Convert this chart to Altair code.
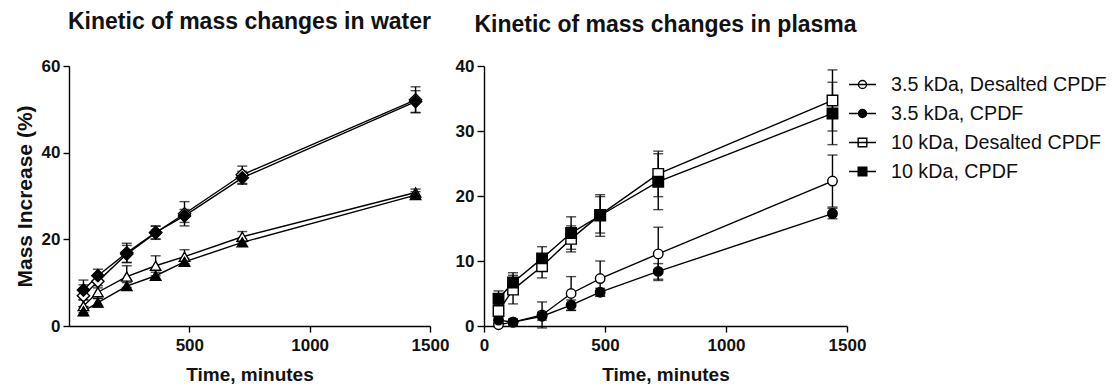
import altair as alt
import pandas as pd

# ---------------- data ----------------
times = [60, 120, 240, 360, 480, 720, 1440]

# water panel (no legend in the original)
water_names = ["Open diamond", "Filled diamond", "Open triangle", "Filled triangle"]
water_open_diamond = [7.0, 10.3, 16.6, 21.5, 25.9, 34.9, 52.2]
water_open_diamond_err = [2.5, 1.5, 2.0, 1.5, 2.8, 2.0, 3.0]
water_filled_diamond = [8.3, 11.6, 16.9, 21.6, 25.4, 34.2, 51.8]
water_filled_diamond_err = [2.3, 1.5, 2.2, 1.5, 1.5, 1.5, 2.5]
water_open_triangle = [4.6, 7.8, 11.4, 13.9, 16.0, 20.6, 30.8]
water_open_triangle_err = [1.5, 1.5, 2.5, 2.3, 1.6, 1.2, 0.8]
water_filled_triangle = [3.4, 5.4, 9.2, 11.6, 14.8, 19.3, 30.2]
water_filled_triangle_err = [1.0, 1.0, 0.8, 0.8, 0.8, 0.8, 0.8]

# plasma panel
plasma_names = ["3.5 kDa, Desalted CPDF", "3.5 kDa, CPDF",
                "10 kDa, Desalted CPDF", "10 kDa, CPDF"]
plasma_35_desalted = [0.2, 0.6, 1.7, 5.0, 7.3, 11.1, 22.3]
plasma_35_desalted_err = [0.3, 0.5, 2.0, 2.6, 2.7, 4.1, 4.0]
plasma_35 = [0.9, 0.6, 1.5, 3.2, 5.2, 8.4, 17.3]
plasma_35_err = [0.6, 0.4, 0.6, 0.8, 0.6, 1.2, 0.8]
plasma_10_desalted = [2.3, 5.6, 9.2, 13.4, 17.1, 23.4, 34.7]
plasma_10_desalted_err = [1.0, 2.2, 1.8, 2.0, 2.8, 3.5, 4.7]
plasma_10 = [4.2, 6.7, 10.4, 14.3, 17.0, 22.2, 32.7]
plasma_10_err = [1.2, 1.5, 1.8, 2.5, 3.2, 4.3, 4.8]


def long_table(names, values, errs):
    rows = []
    for name, vals, es in zip(names, values, errs):
        for t, v, e in zip(times, vals, es):
            rows.append({"series": name, "time": t, "value": v,
                         "lo": v - e, "hi": v + e})
    return pd.DataFrame(rows)


water_df = long_table(
    water_names,
    [water_open_diamond, water_filled_diamond, water_open_triangle, water_filled_triangle],
    [water_open_diamond_err, water_filled_diamond_err, water_open_triangle_err,
     water_filled_triangle_err])
plasma_df = long_table(
    plasma_names,
    [plasma_35_desalted, plasma_35, plasma_10_desalted, plasma_10],
    [plasma_35_desalted_err, plasma_35_err, plasma_10_desalted_err, plasma_10_err])

FONT = "Liberation Sans"


def panel(df, names, styles, y_domain, y_ticks, x_ticks, y_title):
    x_axis = alt.Axis(values=x_ticks, title="Time, minutes", labelFlush=False,
                      format="d", tickSize=6, labelPadding=5, titlePadding=12)
    if y_title:
        y_axis = alt.Axis(values=y_ticks, title=y_title, tickSize=6,
                          labelPadding=3, titlePadding=6)
    else:
        y_axis = alt.Axis(values=y_ticks, title=None, tickSize=7, labelPadding=3)
    xs = alt.Scale(domain=[0, 1500], nice=False, zero=False)
    ys = alt.Scale(domain=y_domain, nice=False, zero=False)
    base = alt.Chart(df)
    x = alt.X("time:Q", scale=xs, axis=x_axis)

    lines = base.mark_line(color="black", strokeWidth=1.4).encode(
        x=x, y=alt.Y("value:Q", scale=ys, axis=y_axis), detail="series:N")
    bars = base.mark_rule(color="black", strokeWidth=1.4).encode(
        x=x, y=alt.Y("lo:Q", scale=ys, axis=y_axis), y2="hi:Q")
    cap_hi = base.mark_tick(orient="horizontal", color="black", thickness=1.4,
                            size=10).encode(x=x, y=alt.Y("hi:Q", scale=ys, axis=y_axis))
    cap_lo = base.mark_tick(orient="horizontal", color="black", thickness=1.4,
                            size=10).encode(x=x, y=alt.Y("lo:Q", scale=ys, axis=y_axis))
    layers = [lines, bars, cap_hi, cap_lo]
    for name, (shape, fill, size) in zip(names, styles):
        pts = base.transform_filter(alt.datum.series == name).mark_point(
            shape=shape, filled=True, fill=fill, stroke="black", strokeWidth=1.4,
            size=size, opacity=1).encode(
            x=x, y=alt.Y("value:Q", scale=ys, axis=y_axis))
        layers.append(pts)
    return layers


water_styles = [("diamond", "white", 150), ("diamond", "black", 150),
                ("triangle-up", "white", 110), ("triangle-up", "black", 110)]
plasma_styles = [("circle", "white", 90), ("circle", "black", 90),
                 ("square", "white", 110), ("square", "black", 110)]

w_layers = panel(water_df, water_names, water_styles, [0, 60], [0, 20, 40, 60],
                 [500, 1000, 1500], "Mass Increase (%)")
p_layers = panel(plasma_df, plasma_names, plasma_styles, [0, 40],
                 [0, 10, 20, 30, 40], [0, 500, 1000, 1500], None)

# legend: line-through-marker symbols
circ = "M-0.3,0A0.3,0.3,0,1,1,0.3,0A0.3,0.3,0,1,1,-0.3,0Z"
sq = "M-0.32,-0.32L0.32,-0.32L0.32,0.32L-0.32,0.32Z"
legend_paths = ["M-1,0L1,0" + circ, "M-1,0L1,0" + circ,
                "M-1,0L1,0" + sq, "M-1,0L1,0" + sq]
legend_fills = ["white", "black", "white", "black"]
legend_strokes = ["black", "black", "black", "black"]
leg = alt.Legend(orient="none", legendX=779, legendY=4, title=None,
                 labelFont=FONT, labelFontSize=19.7, labelColor="#111", labelLimit=0,
                 symbolSize=729, symbolStrokeWidth=1.4, symbolOpacity=1,
                 rowPadding=4, labelOffset=14, padding=0)
legend_src = alt.Chart(plasma_df).transform_filter("false").mark_point(
    opacity=1, strokeWidth=1.4).encode(
    shape=alt.Shape("series:N", scale=alt.Scale(domain=plasma_names, range=legend_paths),
                    legend=leg),
    fill=alt.Fill("series:N", scale=alt.Scale(domain=plasma_names, range=legend_fills),
                  legend=leg),
    stroke=alt.Stroke("series:N",
                      scale=alt.Scale(domain=plasma_names, range=legend_strokes),
                      legend=leg))

water = alt.layer(*w_layers).properties(
    width=361, height=260,
    title=alt.TitleParams("Kinetic of mass changes in water", offset=23))
plasma = alt.layer(*p_layers, legend_src).properties(
    width=363, height=260,
    title=alt.TitleParams("Kinetic of mass changes in plasma", offset=20))

chart = alt.hconcat(water, plasma, spacing=6).properties(
    padding={"left": 14, "top": 11, "right": 5, "bottom": 2}
).configure_view(stroke=None).configure_axis(
    grid=False, domainColor="black", tickColor="black", domainWidth=1.4,
    tickWidth=1.4, labelColor="#111", titleColor="#111", labelFont=FONT,
    titleFont=FONT, labelFontSize=17, titleFontSize=19, titleFontWeight="bold",
    labelFontWeight="bold"
).configure_axisY(titleFontSize=21).configure_title(
    font=FONT, fontSize=23, fontWeight="bold", color="#111", anchor="middle")

chart.save("out.html", embed_options={"renderer": "svg", "actions": False})
